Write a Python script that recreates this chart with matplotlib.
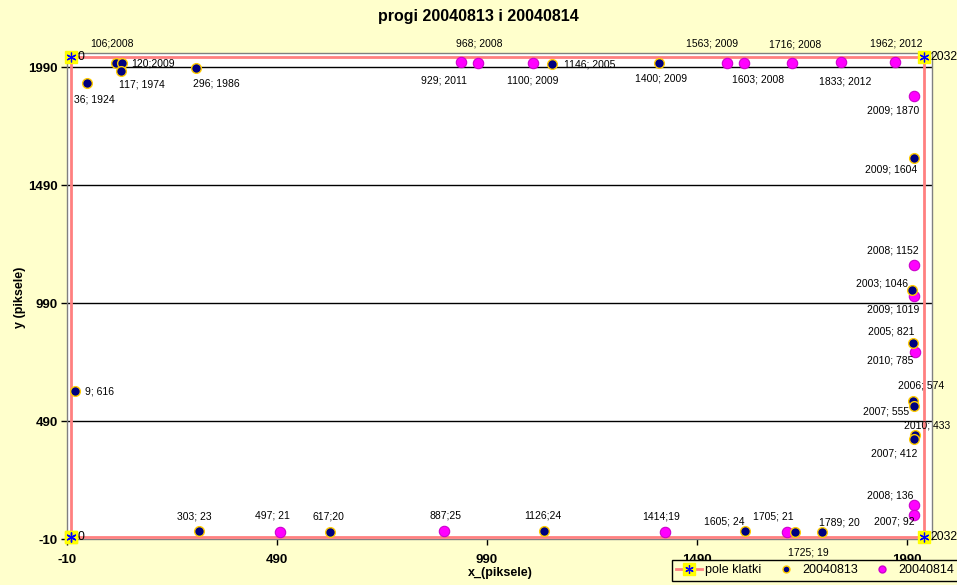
import matplotlib
matplotlib.use("Agg")
import matplotlib.pyplot as plt
from matplotlib.lines import Line2D

plt.rcParams['font.family'] = ['Liberation Sans', 'DejaVu Sans']

# ---------------- data ----------------
frame_x = [0, 2032, 2032, 0, 0]
frame_y = [0, 0, 2032, 2032, 0]
frame_labels = ["0", "2032", "2032", "0"]

x13 = [106, 120, 117, 296, 36, 9, 1146, 1400, 2009, 2003, 2005, 2006, 2007, 2010, 2007,
       303, 617, 1126, 1605, 1725, 1789]
y13 = [2008, 2009, 1974, 1986, 1924, 616, 2005, 2009, 1604, 1046, 821, 574, 555, 433, 412,
       23, 20, 24, 24, 19, 20]
lab13 = ["106;2008", "120;2009", "117; 1974", "296; 1986", "36; 1924", "9; 616", "1146; 2005",
         "1400; 2009", "2009; 1604", "2003; 1046", "2005; 821", "2006; 574", "2007; 555",
         "2010; 433", "2007; 412", "303; 23", "617;20", "1126;24", "1605; 24", "1725; 19",
         "1789; 20"]

x14 = [968, 929, 1100, 1563, 1603, 1716, 1833, 1962, 2009, 2008, 2009, 2010, 2008, 2007,
       497, 887, 1414, 1705]
y14 = [2008, 2011, 2009, 2009, 2008, 2008, 2012, 2012, 1870, 1152, 1019, 785, 136, 92,
       21, 25, 19, 21]
lab14 = ["968; 2008", "929; 2011", "1100; 2009", "1563; 2009", "1603; 2008", "1716; 2008",
         "1833; 2012", "1962; 2012", "2009; 1870", "2008; 1152", "2009; 1019", "2010; 785",
         "2008; 136", "2007; 92", "497; 21", "887;25", "1414;19", "1705; 21"]

ticks = [-10, 490, 990, 1490, 1990]

# label offsets in pixels (dx right, dy down)
off13 = [(-4, -20), (31, 1), (21, 13), (21, 15), (8, 17), (24, 0), (37, 1),
         (2, 16), (-23, 11), (-30, -6), (-22, -12), (8, -16), (-28, 6),
         (12, -9), (-19, 14), (-4, -15), (-2, -15), (-1, -15), (-21, -9), (13, 20),
         (17, -9)]
off14 = [(2, -20), (-17, 18), (0, 18), (-15, -19), (14, 16), (4, -19), (5, 19), (1, -19),
         (-21, 15), (-21, -14), (-21, 13), (-25, 9), (-24, -9), (-19, 7), (-8, -16),
         (2, -15), (-4, -16), (-14, -15)]

W, H = 957, 585
bg = '#FFFFCC'
fig = plt.figure(figsize=(W / 100, H / 100), dpi=100, facecolor=bg)
L, R, T, B = 67.3, 931.7, 53.2, 539.0
ax = fig.add_axes([L / W, (H - B) / H, (R - L) / W, (B - T) / H])
ax.set_facecolor('white')
ax.set_xlim(-10, 2050)
ax.set_ylim(-10, 2050)

for s in ax.spines.values():
    s.set_color('#808080')
    s.set_linewidth(1)

ax.set_yticks(ticks)
ax.set_xticks(ticks)
ax.set_yticklabels([str(t) for t in ticks], fontsize=9.5, fontweight='bold')
ax.set_xticklabels([str(t) for t in ticks], fontsize=9.5, fontweight='bold')
ax.tick_params(axis='both', direction='out', length=4, width=1, color='black', pad=3)
ax.tick_params(axis='x', pad=7)
for t in ticks[1:]:
    ax.axhline(t, color='black', lw=1, zorder=1)

# frame
frame_line, = ax.plot(frame_x, frame_y, color='#FF8080', lw=2, marker='s', markersize=9,
                      markerfacecolor='#FFFF00', markeredgecolor='#FFFF00', zorder=3,
                      clip_on=False)
frame_ast, = ax.plot(frame_x, frame_y, ls='none', marker=(6, 2, 0), markersize=7,
                     markeredgecolor='#0000FF', markeredgewidth=0.9, zorder=4, clip_on=False)
for xx, yy, lb in zip(frame_x[:4], frame_y[:4], frame_labels):
    ax.annotate(lb, (xx, yy), xytext=(6, 0), textcoords='offset pixels', ha='left',
                va='center', fontsize=8.8, annotation_clip=False, zorder=5)

s13, = ax.plot(x13, y13, ls='none', marker='o', markersize=7, markerfacecolor='#000080',
               markeredgecolor='#FFCC00', markeredgewidth=1, zorder=5, clip_on=False)
s14, = ax.plot(x14, y14, ls='none', marker='o', markersize=7.5, markerfacecolor='#FF00FF',
               markeredgecolor='#CC00CC', markeredgewidth=0.8, zorder=4, clip_on=False)

for xx, yy, lb, (dx, dy) in zip(x13, y13, lab13, off13):
    ax.annotate(lb, (xx, yy), xytext=(dx, -dy), textcoords='offset pixels', ha='center',
                va='center', fontsize=7.5, annotation_clip=False, zorder=6)
for xx, yy, lb, (dx, dy) in zip(x14, y14, lab14, off14):
    ax.annotate(lb, (xx, yy), xytext=(dx, -dy), textcoords='offset pixels', ha='center',
                va='center', fontsize=7.5, annotation_clip=False, zorder=6)

fig.text(478 / W, 1 - 16 / H, 'progi 20040813 i 20040814', ha='center', va='center',
         fontsize=11.5, fontweight='bold')
fig.text(500 / W, 1 - 573 / H, 'x_(piksele)', ha='center', va='center', fontsize=9,
         fontweight='bold')
fig.text(20 / W, 1 - 297 / H, 'y (piksele)', ha='center', va='center', fontsize=9,
         fontweight='bold', rotation=90)

h_frame = Line2D([], [], color='#FF8080', lw=2, marker='s', markersize=8,
                 markerfacecolor='#FFFF00', markeredgecolor='#FFFF00')
h_ast = Line2D([], [], ls='none', marker=(6, 2, 0), markersize=6, markeredgecolor='#0000FF',
               markeredgewidth=0.9)
h13 = Line2D([], [], ls='none', marker='o', markersize=5, markerfacecolor='#000080',
             markeredgecolor='#FFCC00')
h14 = Line2D([], [], ls='none', marker='o', markersize=5, markerfacecolor='#FF00FF',
             markeredgecolor='#CC00CC')
leg = fig.legend([(h_frame, h_ast), h13, h14], ['pole klatki', '20040813', '20040814'],
                 loc='upper left', bbox_to_anchor=(671.5 / W, 1 - 560 / H), ncol=3,
                 fontsize=9, frameon=True, fancybox=False, edgecolor='black',
                 facecolor=bg, framealpha=1, handlelength=2.1, handletextpad=0.25,
                 columnspacing=0.9, borderpad=0.35, borderaxespad=0)
leg.get_frame().set_linewidth(1)

fig.savefig('out.png', dpi=100, facecolor=bg)
